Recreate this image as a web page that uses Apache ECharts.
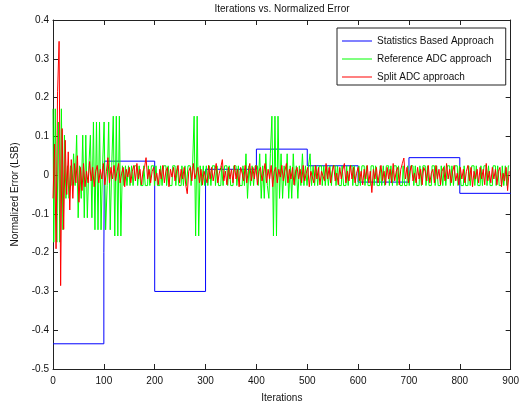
<!DOCTYPE html>
<html>
<head>
<meta charset="utf-8">
<script src="https://cdn.jsdelivr.net/npm/echarts@6/dist/echarts.min.js"></script>
<style>
  html, body { margin: 0; padding: 0; background: #fff; }
  #chart { width: 522px; height: 408px; }
</style>
</head>
<body>
<div id="chart"></div>
<script>
// one sample every 3 iterations
const sampleStep = 3;

// Statistics Based Approach: step levels (value holds until next breakpoint)
const statIters = [0, 100, 101, 200, 300, 400, 500, 600, 700, 800, 900];
const statErr = [-0.435, -0.2, 0.036, -0.3, 0.015, 0.067, 0.024, -0.018, 0.045, -0.047, -0.047];

// Reference ADC approach
const refErr = [
  0.171, -0.173, 0.171, -0.173, 0.137, -0.173, 0.171, -0.141, 0.103, -0.06,
  0.024, -0.06, 0.024, -0.027, 0.055, -0.027, 0.103, -0.11, 0.024, -0.06,
  0.103, -0.11, 0.103, -0.11, 0.024, 0.103, -0.11, 0.137, -0.141, 0.137,
  -0.141, 0.137, -0.141, 0.024, 0.137, -0.141, -0.027, 0.137, -0.141, 0.024,
  0.152, -0.157, 0.152, -0.157, 0.152, -0.157, 0.024, -0.027, 0.024, -0.027,
  0.024, -0.027, 0.024, -0.027, 0.024, 0.024, -0.027, 0.024, -0.027, -0.027,
  0.024, -0.027, -0.027, 0.024, -0.027, 0.024, 0.024, -0.027, 0.024, -0.027,
  -0.027, 0.024, -0.027, 0.024, 0.024, -0.027, 0.024, -0.027, -0.027, 0.024,
  0.024, -0.027, 0.024, -0.027, -0.027, 0.024, -0.027, 0.024, -0.027, 0.024,
  0.024, -0.027, 0.024, 0.152, -0.157, 0.152, -0.157, 0.024, -0.027, 0.024,
  -0.027, 0.024, -0.027, 0.024, -0.027, 0.024, 0.024, -0.027, 0.024, -0.027,
  -0.027, 0.024, -0.027, 0.024, 0.024, -0.027, 0.024, -0.027, -0.027, 0.024,
  0.024, -0.027, 0.024, -0.027, -0.027, 0.024, -0.027, 0.055, -0.06, 0.024,
  -0.027, 0.024, -0.027, 0.024, 0.024, -0.027, 0.055, -0.06, 0.024, -0.06,
  0.055, -0.027, -0.06, 0.055, 0.152, -0.157, 0.152, -0.157, 0.152, -0.06,
  0.055, -0.06, 0.024, -0.027, 0.055, -0.06, 0.024, -0.06, 0.055, -0.027,
  0.024, -0.06, 0.024, -0.027, 0.055, -0.027, 0.024, -0.027, 0.024, 0.055,
  -0.027, 0.024, -0.027, 0.024, -0.027, 0.024, 0.024, -0.027, 0.024, -0.027,
  0.024, -0.027, 0.024, -0.027, 0.024, 0.024, -0.027, 0.024, -0.027, -0.027,
  0.024, -0.027, -0.027, 0.024, -0.027, 0.024, 0.024, -0.027, 0.024, -0.027,
  -0.027, 0.024, -0.027, 0.024, 0.024, -0.027, 0.024, -0.027, -0.027, 0.024,
  0.024, -0.027, 0.024, -0.027, -0.027, 0.024, -0.027, 0.024, -0.027, 0.024,
  0.024, -0.027, 0.024, -0.027, 0.024, 0.024, -0.027, 0.024, -0.027, -0.027,
  0.024, -0.027, -0.027, 0.024, -0.027, 0.024, 0.024, -0.027, 0.024, -0.027,
  -0.027, 0.024, -0.027, 0.024, 0.024, -0.027, 0.024, -0.027, -0.027, 0.024,
  0.024, -0.027, 0.024, -0.027, -0.027, 0.024, -0.027, 0.024, -0.027, 0.024,
  0.024, -0.027, 0.024, -0.027, 0.024, 0.024, -0.027, 0.024, -0.027, -0.027,
  0.024, -0.027, -0.027, 0.024, -0.027, 0.024, 0.024, -0.027, 0.024, -0.027,
  -0.027, 0.024, -0.027, 0.024, 0.024, -0.027, 0.024, -0.027, -0.027, 0.024,
  0.024, -0.027, 0.024, -0.027, -0.027, 0.024, -0.027, 0.024, -0.027, 0.024
];

// Split ADC approach
const splitErr = [
  -0.06, 0.08, -0.19, 0.215, 0.345, -0.285, 0.12, -0.14, 0.09, -0.05,
  0.06, -0.09, 0.04, -0.06, 0.03, -0.02, 0.05, -0.07, 0.02, -0.04,
  0.03, -0.03, 0.01, -0.02, 0.035, -0.015, 0.02, -0.03, 0.01, 0.025,
  -0.02, 0.015, -0.01, 0.03, -0.025, 0.01, 0.045, -0.02, 0.02, -0.01,
  0.025, -0.015, 0.01, 0.03, -0.02, 0.005, 0.02, -0.03, 0.015, -0.005,
  0.02, -0.02, 0.01, 0.025, -0.015, 0.03, -0.01, 0.015, -0.025, 0.01,
  0.02, 0.045, -0.01, 0.015, -0.02, 0.01, 0.02, -0.015, 0.005, -0.025,
  0.015, -0.01, 0.025, -0.02, 0.01, 0.02, -0.03, 0.015, -0.005, 0.02,
  -0.015, 0.01, 0.025, -0.02, 0.015, -0.01, 0.02, -0.025, -0.048, 0.01,
  0.02, -0.015, 0.03, -0.01, 0.005, 0.02, -0.02, 0.015, -0.025, 0.01,
  0.015, -0.02, 0.025, -0.01, 0.02, -0.015, 0.01, 0.03, -0.02, 0.005,
  0.02, 0.04, -0.015, 0.01, -0.025, 0.02, -0.01, 0.015, -0.02, 0.025,
  -0.01, 0.015, -0.03, 0.02, 0.005, -0.015, 0.025, -0.02, 0.01, 0.03,
  -0.015, 0.02, -0.01, 0.025, -0.025, 0.01, 0.02, -0.015, 0.005, 0.03,
  -0.02, 0.015, -0.01, 0.025, -0.03, 0.01, 0.02, -0.02, 0.015, -0.005,
  0.025, -0.015, 0.01, 0.03, -0.02, 0.015, -0.01, 0.02, -0.025, 0.01,
  0.02, -0.01, 0.015, -0.02, 0.025, -0.015, 0.005, 0.02, -0.03, 0.01,
  0.015, -0.02, 0.025, -0.01, 0.02, -0.025, 0.01, 0.015, -0.015, 0.03,
  -0.01, 0.02, -0.02, 0.01, 0.025, -0.015, 0.005, -0.025, 0.02, -0.01,
  0.015, 0.03, -0.02, 0.01, -0.015, 0.025, -0.01, 0.02, -0.02, 0.005,
  0.02, -0.015, 0.01, -0.025, 0.015, -0.01, 0.025, -0.02, 0.01, -0.045,
  0.015, -0.01, 0.02, -0.02, 0.005, 0.025, -0.015, 0.01, -0.025, 0.02,
  -0.01, 0.015, -0.02, 0.03, -0.015, 0.01, 0.02, -0.025, 0.015, 0.03,
  0.044, -0.01, 0.02, -0.02, 0.01, 0.025, -0.015, 0.005, -0.02, 0.02,
  -0.01, 0.015, -0.025, 0.02, 0.01, -0.015, 0.025, -0.02, 0.005, 0.015,
  -0.02, 0.025, -0.01, 0.015, -0.025, 0.01, 0.02, -0.015, 0.03, -0.01,
  0.015, -0.02, 0.01, 0.025, -0.015, 0.005, -0.025, 0.02, -0.01, 0.015,
  -0.02, 0.01, 0.025, -0.015, 0.02, -0.03, 0.01, -0.01, 0.015, -0.02,
  0.02, -0.01, 0.015, -0.025, 0.03, -0.015, 0.01, -0.02, 0.02, -0.01,
  0.015, -0.025, 0.01, 0.02, -0.03, 0.005, -0.015, 0.02, -0.04, 0.01
];

const seriesNames = ['Statistics Based Approach', 'Reference ADC approach', 'Split ADC approach'];

const font = 'Liberation Sans, Arial, sans-serif';
const textColor = '#111';

const chart = echarts.init(document.getElementById('chart'));

const toPairs = arr => arr.map((v, i) => [i * sampleStep, v]);

// box-style axes with inward ticks on all four sides
const tickStyle = { show: true, inside: true, length: 5, lineStyle: { color: '#222', width: 1 } };
const lineStyle = { show: true, onZero: false, lineStyle: { color: '#222', width: 1 } };

const option = {
    animation: false,
    backgroundColor: '#fff',
    title: {
        text: 'Iterations vs. Normalized Error',
        left: 282,
        top: 4,
        textAlign: 'center',
        padding: 0,
        textStyle: { fontSize: 10, fontWeight: 'normal', color: textColor, fontFamily: font }
    },
    legend: {
        data: seriesNames,
        orient: 'vertical',
        left: 337,
        top: 28,
        padding: [7, 12, 2, 5],
        itemGap: 6,
        itemWidth: 30,
        itemHeight: 1,
        icon: 'rect',
        backgroundColor: '#fff',
        borderColor: '#222',
        borderWidth: 1,
        borderRadius: 0,
        textStyle: { fontSize: 10, color: textColor, fontFamily: font, lineHeight: 12 }
    },
    grid: { left: 53, right: 10, top: 20, bottom: 31, containLabel: false },
    xAxis: [
        {
            type: 'value',
            min: 0, max: 900, interval: 100,
            name: 'Iterations',
            nameLocation: 'middle',
            nameGap: 24,
            nameTextStyle: { fontSize: 10, color: textColor, fontFamily: font },
            axisLine: lineStyle,
            axisTick: tickStyle,
            axisLabel: { fontSize: 10, color: textColor, fontFamily: font, margin: 7 },
            splitLine: { show: false }
        },
        {
            type: 'value',
            position: 'top',
            min: 0, max: 900, interval: 100,
            axisLine: lineStyle,
            axisTick: tickStyle,
            axisLabel: { show: false },
            splitLine: { show: false }
        }
    ],
    yAxis: [
        {
            type: 'value',
            min: -0.5, max: 0.4, interval: 0.1,
            name: 'Normalized Error (LSB)',
            nameLocation: 'middle',
            nameGap: 33,
            nameTextStyle: { fontSize: 10, color: textColor, fontFamily: font },
            axisLine: lineStyle,
            axisTick: tickStyle,
            axisLabel: {
                fontSize: 10, color: textColor, fontFamily: font, margin: 4,
                formatter: v => String(Number(v.toFixed(1)))
            },
            splitLine: { show: false }
        },
        {
            type: 'value',
            position: 'right',
            min: -0.5, max: 0.4, interval: 0.1,
            axisLine: lineStyle,
            axisTick: tickStyle,
            axisLabel: { show: false },
            splitLine: { show: false }
        }
    ],
    series: [
        {
            name: seriesNames[0],
            type: 'line',
            step: 'end',
            symbol: 'none',
            data: statIters.map((it, i) => [it, statErr[i]]),
            lineStyle: { color: '#0000ff', width: 1 },
            itemStyle: { color: '#0000ff' },
            z: 2
        },
        {
            name: seriesNames[1],
            type: 'line',
            step: 'middle',
            symbol: 'none',
            data: toPairs(refErr),
            lineStyle: { color: '#00ff00', width: 1 },
            itemStyle: { color: '#00ff00' },
            z: 3
        },
        {
            name: seriesNames[2],
            type: 'line',
            symbol: 'none',
            data: toPairs(splitErr),
            lineStyle: { color: '#ff0000', width: 1 },
            itemStyle: { color: '#ff0000' },
            z: 4
        }
    ]
};

chart.setOption(option);
</script>
</body>
</html>
